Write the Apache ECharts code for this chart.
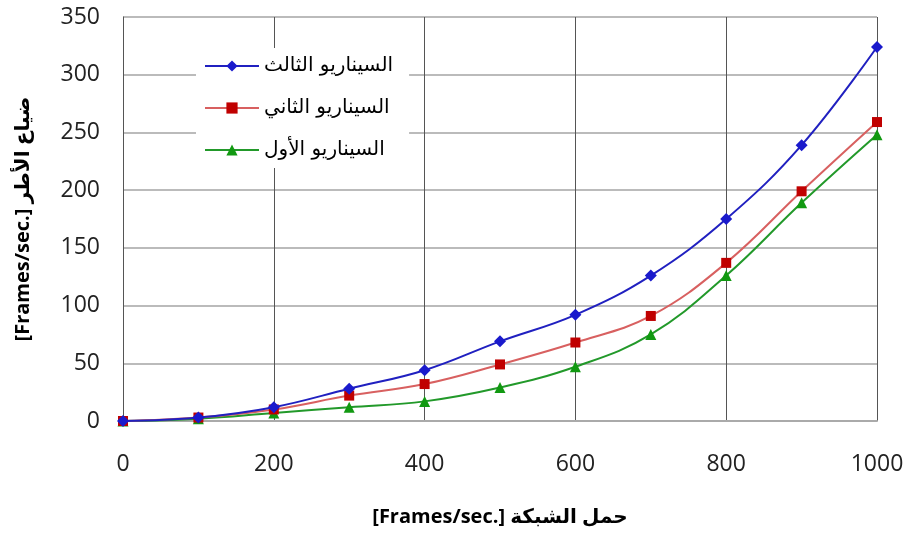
<!DOCTYPE html>
<html><head><meta charset="utf-8">
<script src="https://cdn.jsdelivr.net/npm/echarts@6/dist/echarts.min.js"></script>
<style>html,body{margin:0;padding:0;background:#fff;overflow:hidden}#c{width:908px;height:533px}</style>
</head><body><div id="c"></div>
<script>
const xValues = [0, 100, 200, 300, 400, 500, 600, 700, 800, 900, 1000];
const scenario3 = [0, 3, 12, 28, 44, 69, 92, 126, 175, 239, 324];
const scenario2 = [0, 3, 10, 22, 32, 49, 68, 91, 137, 199, 259];
const scenario1 = [0, 2, 7, 12, 17, 29, 47, 75, 126, 189, 248];
const seriesNames = ['السيناريو الثالث', 'السيناريو الثاني', 'السيناريو الأول'];
const xTicks = [0, 200, 400, 600, 800, 1000];
const yTicks = [0, 50, 100, 150, 200, 250, 300, 350];
const xName = '[Frames/sec.] حمل الشبكة';
const yName = '[Frames/sec.] ضياع الأطر';

const pairs = arr => arr.map((v, i) => [xValues[i], v]);
const chart = echarts.init(document.getElementById('c'), null, {renderer: 'canvas'});
const font = "'Open Sans', 'DejaVu Sans', sans-serif";
const arFont = "'DejaVu Sans', sans-serif";
chart.setOption({
  animation: false,
  backgroundColor: '#fff',
  textStyle: {fontFamily: font},
  grid: {left: 123, right: 31, top: 17, bottom: 112},
  legend: {
    orient: 'vertical', left: 196, top: 48, itemWidth: 54, itemHeight: 14,
    itemGap: 22, backgroundColor: '#fff', padding: [8, 16, 8, 8],
    textStyle: {fontSize: 20, color: '#000', fontFamily: arFont},
    data: seriesNames
  },
  xAxis: {
    type: 'value', min: xTicks[0], max: xTicks[xTicks.length - 1], interval: 200,
    name: xName, nameLocation: 'middle', nameGap: 86,
    nameTextStyle: {fontSize: 20, fontWeight: 'bold', color: '#000', fontFamily: font},
    axisLine: {show: true, lineStyle: {color: '#aaa', width: 2}},
    axisTick: {show: false},
    axisLabel: {fontSize: 23, color: '#222', margin: 32, formatter: v => String(v)},
    splitLine: {show: true, lineStyle: {color: '#555', width: 1}}
  },
  yAxis: {
    type: 'value', min: yTicks[0], max: yTicks[yTicks.length - 1], interval: 50,
    name: yName, nameLocation: 'middle', nameGap: 90, nameRotate: 90,
    nameTextStyle: {fontSize: 20, fontWeight: 'bold', color: '#000', fontFamily: font},
    axisLine: {show: true, lineStyle: {color: '#555', width: 1}},
    axisTick: {show: false},
    axisLabel: {fontSize: 23, color: '#222', margin: 23, formatter: v => String(v)},
    splitLine: {show: true, lineStyle: {color: '#bbb', width: 2}}
  },
  series: [
    {name: seriesNames[0], type: 'line', smooth: 0.4, data: pairs(scenario3),
     symbol: 'diamond', symbolSize: 12, color: '#1a1acc',
     lineStyle: {color: '#2020c0', width: 2}, itemStyle: {color: '#1a1acc'}, z: 5},
    {name: seriesNames[1], type: 'line', smooth: 0.4, data: pairs(scenario2),
     symbol: 'rect', symbolSize: 10, color: '#c00000',
     lineStyle: {color: '#d86060', width: 2}, itemStyle: {color: '#c00000'}, z: 4},
    {name: seriesNames[2], type: 'line', smooth: 0.4, data: pairs(scenario1),
     symbol: 'triangle', symbolSize: 11, color: '#119911',
     lineStyle: {color: '#22992a', width: 2}, itemStyle: {color: '#119911'}, z: 3}
  ]
});
</script></body></html>
